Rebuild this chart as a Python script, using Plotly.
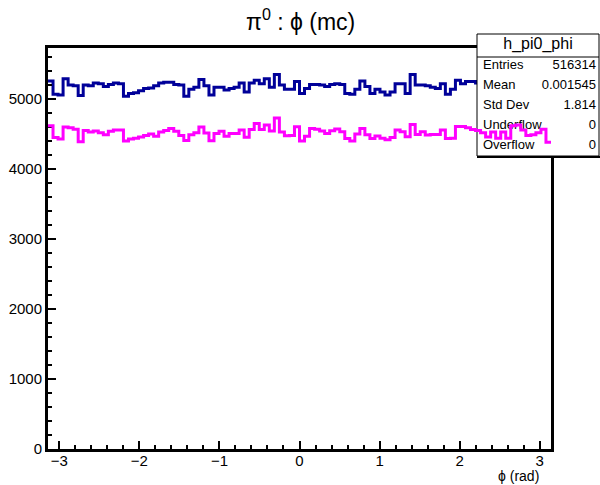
import numpy as np
import plotly.graph_objects as go

W, H = 600, 485

# Bin contents: 100 uniform bins of phi over [-pi, pi]
phi_all = [
    5260, 5070, 5060, 5290, 5200, 5190, 5050, 5200, 5190, 5230,
    5220, 5180, 5210, 5230, 5220, 5040, 5080, 5090, 5120, 5150,
    5160, 5190, 5230, 5240, 5240, 5210, 5200, 5040, 5140, 5170,
    5280, 5190, 5060, 5170, 5170, 5130, 5150, 5170, 5230, 5100,
    5230, 5270, 5220, 5290, 5170, 5350, 5200, 5140, 5140, 5250,
    5080, 5150, 5210, 5210, 5200, 5180, 5210, 5220, 5210, 5080,
    5070, 5140, 5260, 5180, 5080, 5140, 5100, 5060, 5100, 5220,
    5220, 5080, 5350, 5200, 5200, 5190, 5170, 5150, 5220, 5070,
    5140, 5270, 5220, 5250, 5250, 5230, 5175, 5105, 5185, 5085,
    5185, 5085, 5290, 5300, 5220, 5130, 5140, 5175, 5230, 5020,
]
phi_sel = [
    4620, 4450, 4430, 4600, 4590, 4570, 4390, 4550, 4530, 4545,
    4520, 4490, 4540, 4560, 4560, 4400, 4430, 4440, 4460, 4480,
    4500, 4470, 4530, 4550, 4580, 4540, 4480, 4410, 4490, 4520,
    4600, 4515, 4405, 4510, 4540, 4470, 4510, 4510, 4560, 4455,
    4567, 4650, 4565, 4630, 4545, 4730, 4530, 4475, 4480, 4605,
    4400, 4470, 4580, 4570, 4545, 4510, 4548, 4571, 4533, 4438,
    4400, 4500, 4581, 4490, 4438, 4471, 4440, 4420, 4450, 4557,
    4533, 4462, 4638, 4495, 4533, 4486, 4495, 4495, 4557, 4438,
    4440, 4610, 4610, 4590, 4565, 4550, 4520, 4460, 4530, 4440,
    4530, 4440, 4620, 4630, 4560, 4480, 4490, 4520, 4570, 4385,
]

x_ticks = [-3, -2, -1, 0, 1, 2, 3]
y_ticks = [0, 1000, 2000, 3000, 4000, 5000]
y_max = 5730

hist_name = "h_pi0_phi"
stat_labels = ["Entries", "Mean", "Std Dev", "Underflow", "Overflow"]
stat_values = ["516314", "0.001545", "1.814", "0", "0"]

title_text = "π<sup>0</sup> : ϕ (mc)"
x_title = "ϕ (rad)"

FONT = "Liberation Sans, Arial, Helvetica, sans-serif"
BLUE = "#000099"
MAGENTA = "#ff00ff"

# frame of the histogram pad, in pixels
L, R, T, B = 48, 551, 48, 449

edges = np.linspace(-np.pi, np.pi, len(phi_all) + 1)


def step_xy(vals):
    return edges, list(vals) + [vals[-1]]


fig = go.Figure()

# main histogram (owns the stats box)
bx, by = step_xy(phi_all)
fig.add_trace(go.Scatter(x=bx, y=by, mode="lines", line_shape="hv",
                         line=dict(color=BLUE, width=3),
                         xaxis="x", yaxis="y", showlegend=False))

# stats box, in pixel coordinates on a full-page overlay
bx0, bx1, by0, by1 = 477, 599, 34, 156
sep_y = 57
fig.add_trace(go.Scatter(x=[bx0, bx1, bx1, bx0, bx0], y=[by0, by0, by1, by1, by0],
                         mode="lines", fill="toself", fillcolor="white",
                         line=dict(color="black", width=1),
                         xaxis="x2", yaxis="y2", showlegend=False))
fig.add_trace(go.Scatter(x=[bx0, bx1], y=[sep_y, sep_y], mode="lines",
                         line=dict(color="black", width=1),
                         xaxis="x2", yaxis="y2", showlegend=False))
fig.add_trace(go.Scatter(x=[bx0, 600], y=[by1 + 1, by1 + 1], mode="lines",
                         line=dict(color="black", width=2),
                         xaxis="x2", yaxis="y2", showlegend=False))
row_y = [66 + 20 * i for i in range(len(stat_labels))]
fig.add_trace(go.Scatter(x=[483] * len(stat_labels), y=row_y, mode="text",
                         text=stat_labels, textposition="middle right",
                         textfont=dict(family=FONT, size=13, color="black"),
                         xaxis="x2", yaxis="y2", showlegend=False))
fig.add_trace(go.Scatter(x=[596] * len(stat_values), y=row_y, mode="text",
                         text=stat_values, textposition="middle left",
                         textfont=dict(family=FONT, size=13, color="black"),
                         xaxis="x2", yaxis="y2", showlegend=False))
fig.add_trace(go.Scatter(x=[(bx0 + bx1) / 2], y=[45], mode="text",
                         text=[hist_name], textposition="middle center",
                         textfont=dict(family=FONT, size=16, color="black"),
                         xaxis="x2", yaxis="y2", showlegend=False))

# second histogram drawn on top of everything
mx, my = step_xy(phi_sel)
fig.add_trace(go.Scatter(x=mx, y=my, mode="lines", line_shape="hv",
                         line=dict(color=MAGENTA, width=3),
                         xaxis="x3", yaxis="y3", showlegend=False))

xdom = [L / W, R / W]
ydom = [(H - B) / H, (H - T) / H]
tickfont = dict(family=FONT, size=15, color="black")
axis_common = dict(showgrid=False, zeroline=False, showline=True, linecolor="black",
                   linewidth=3, mirror=True, ticks="inside", ticklen=8, tickwidth=2,
                   tickcolor="black", tickfont=tickfont, automargin=False)
hidden = dict(visible=False, showgrid=False, zeroline=False, fixedrange=True)

fig.update_layout(
    width=W, height=H,
    margin=dict(l=0, r=0, t=0, b=0),
    paper_bgcolor="white", plot_bgcolor="rgba(0,0,0,0)",
    xaxis=dict(domain=xdom, range=[-np.pi, np.pi], tickvals=x_ticks, anchor="y",
               showticklabels=False,
               minor=dict(dtick=0.2, tick0=0, ticks="inside", ticklen=4,
                          tickwidth=2, tickcolor="black", showgrid=False),
               **axis_common),
    yaxis=dict(domain=ydom, range=[0, y_max], tickvals=y_ticks, anchor="x",
               minor=dict(dtick=200, tick0=0, ticks="inside", ticklen=4,
                          tickwidth=2, tickcolor="black", showgrid=False),
               **axis_common),
    xaxis2=dict(domain=[0, 1], range=[0, W], anchor="y2", **hidden),
    yaxis2=dict(domain=[0, 1], range=[H, 0], anchor="x2", **hidden),
    # phi tick labels, carried by the overlay axis just below the frame
    xaxis3=dict(domain=xdom, range=[-np.pi, np.pi], anchor="free", position=(H - B - 1) / H,
                showline=False, showgrid=False, zeroline=False, ticks="",
                tickvals=x_ticks, tickfont=tickfont, automargin=False, fixedrange=True),
    yaxis3=dict(domain=ydom, range=[0, y_max], anchor="x3", **hidden),
    annotations=[
        dict(text=title_text, xref="paper", yref="paper", x=0.5, y=1 - 20 / H,
             xanchor="center", yanchor="middle", showarrow=False,
             font=dict(family=FONT, size=23, color="black")),
        dict(text=x_title, xref="paper", yref="paper", x=541 / W, y=1 - 476 / H,
             xanchor="right", yanchor="middle", showarrow=False,
             font=dict(family=FONT, size=14, color="black")),
    ],
)

fig.write_html("out.html")
